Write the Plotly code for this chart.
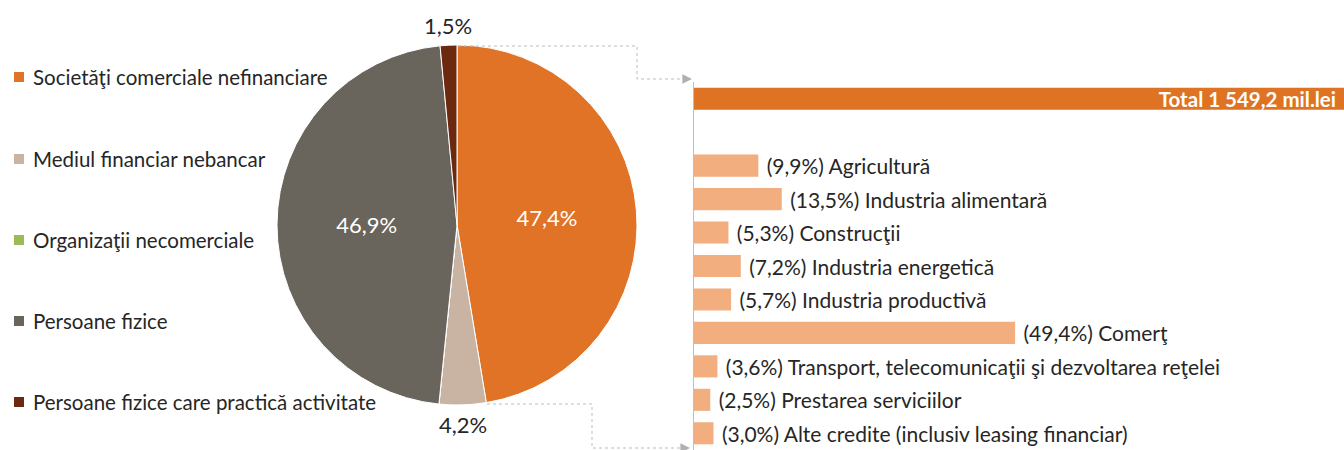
import math
import plotly.graph_objects as go

# ---------------- data ----------------
pie_labels = ["Societăţi comerciale nefinanciare", "Mediul financiar nebancar",
              "Organizaţii necomerciale", "Persoane fizice",
              "Persoane fizice care practică activitate"]
pie_values = [47.4, 4.2, 0.0, 46.9, 1.5]
pie_colors = ["#E07326", "#C9B4A4", "#9BBB59", "#6A655C", "#6B2A10"]
pie_textpos = ["inside", "none", "none", "inside", "none"]
pie_outside = [False, True, False, False, True]

total_label = "Total 1 549,2 mil.lei"
total_share = 100.0
sector_labels = ["Agricultură", "Industria alimentară", "Construcţii",
                 "Industria energetică", "Industria productivă", "Comerţ",
                 "Transport, telecomunicaţii şi dezvoltarea reţelei",
                 "Prestarea serviciilor", "Alte credite (inclusiv leasing financiar)"]
sector_shares = [9.9, 13.5, 5.3, 7.2, 5.7, 49.4, 3.6, 2.5, 3.0]

FONT = "Lato"
W, H = 1344, 450
PIE_CX, PIE_CY, PIE_R = 457, 225, 180


def fmt(v):
    return f"{v:.1f}".replace(".", ",")


def px(x):
    return x / W


def py(y):
    return 1 - y / H


fig = go.Figure()

# ---------------- pie ----------------
pie_text = [fmt(v) + "%" for v in pie_values]
fig.add_trace(go.Pie(
    labels=pie_labels, values=pie_values, sort=False, direction="clockwise",
    rotation=0,
    text=pie_text, textinfo="text",
    textposition=pie_textpos,
    insidetextfont=dict(family=FONT, size=22, color="white"),
    marker=dict(colors=pie_colors, line=dict(color="white", width=1)),
    domain=dict(x=[px(PIE_CX - PIE_R), px(PIE_CX + PIE_R)],
                y=[py(PIE_CY + PIE_R), py(PIE_CY - PIE_R)]),
    showlegend=False, hoverinfo="label+percent",
))

shapes = []
annotations = []

# outside pie labels placed at each slice's mid angle
total_v = sum(pie_values)
cum = 0.0
for v, t, out in zip(pie_values, pie_text, pie_outside):
    mid = (cum + v / 2) / total_v * 2 * math.pi
    cum += v
    if not out:
        continue
    rr = PIE_R + 20
    lx = PIE_CX + rr * math.sin(mid)
    ly = PIE_CY - rr * math.cos(mid)
    annotations.append(dict(text=t, xref="paper", yref="paper", x=px(lx), y=py(ly),
                            xanchor="center", yanchor="middle", showarrow=False,
                            font=dict(family=FONT, size=22, color="#262626")))

# ---------------- bars ----------------
bar_y = [0] + [i + 2 for i in range(len(sector_labels))]
bar_x = [total_share] + sector_shares
bar_text = [total_label + "\u00a0"] + [f"\u00a0({fmt(v)}%) {l}" for v, l in zip(sector_shares, sector_labels)]
bar_colors = ["#DE7324"] + ["#F2AE7F"] * len(sector_labels)
bar_pos = ["inside"] + ["outside"] * len(sector_labels)

fig.add_trace(go.Bar(
    x=bar_x, y=bar_y, orientation="h", text=bar_text, textposition=bar_pos,
    insidetextanchor="end", constraintext="none", cliponaxis=False,
    insidetextfont=dict(family=FONT, size=20.5, color="white", weight="bold"),
    outsidetextfont=dict(family=FONT, size=21, color="#262626"),
    marker=dict(color=bar_colors, line=dict(width=0)), width=0.66,
    xaxis="x2", yaxis="y2", showlegend=False, hoverinfo="x+text",
))

# ---------------- manual legend ----------------
leg_y = [77, 159, 240, 321, 402]
for lab, col, yy in zip(pie_labels, pie_colors, leg_y):
    shapes.append(dict(type="rect", xref="paper", yref="paper",
                       x0=px(14), x1=px(24), y0=py(yy + 5), y1=py(yy - 5),
                       fillcolor=col, line=dict(width=0)))
    annotations.append(dict(text=lab, xref="paper", yref="paper", x=px(31), y=py(yy),
                            xanchor="left", yanchor="middle", showarrow=False,
                            font=dict(family=FONT, size=20.5, color="#262626")))

# ---------------- connectors ----------------
conn = dict(color="#BDBDBD", width=1, dash="dot")
top_pts = [(458, 46), (637, 46), (637, 79), (682, 79)]
bot_pts = [(487, 404), (592, 404), (592, 448), (680, 448)]
for pts in (top_pts, bot_pts):
    path = "M " + " L ".join(f"{px(x)},{py(y)}" for x, y in pts)
    shapes.append(dict(type="path", xref="paper", yref="paper", path=path, line=conn))
for (x0, y0), x1 in ((top_pts[-1], 692), (bot_pts[-1], 690)):
    annotations.append(dict(text="", xref="paper", yref="paper", x=px(x1), y=py(y0),
                            ax=x0 - x1, ay=0, axref="pixel", ayref="pixel",
                            showarrow=True, arrowhead=2, arrowsize=1.6, arrowwidth=1.2,
                            arrowcolor="#B0B0B0"))

fig.update_layout(
    width=W, height=H, margin=dict(l=0, r=0, t=0, b=0),
    paper_bgcolor="white", plot_bgcolor="white",
    font=dict(family=FONT, size=16, color="#262626"),
    xaxis2=dict(domain=[px(694), 1.0], range=[0, 100], visible=False, anchor="y2",
                fixedrange=True),
    yaxis2=dict(domain=[0.0, py(82)], range=[10.5, -0.5], anchor="x2",
                showline=True, linecolor="#BFBFBF", linewidth=1,
                showticklabels=False, showgrid=False, zeroline=False, ticks=""),
    shapes=shapes, annotations=annotations,
)

fig.write_html("out.html", config={"displayModeBar": False},
               post_script="document.body.style.margin='0';document.body.style.overflow='hidden';")
